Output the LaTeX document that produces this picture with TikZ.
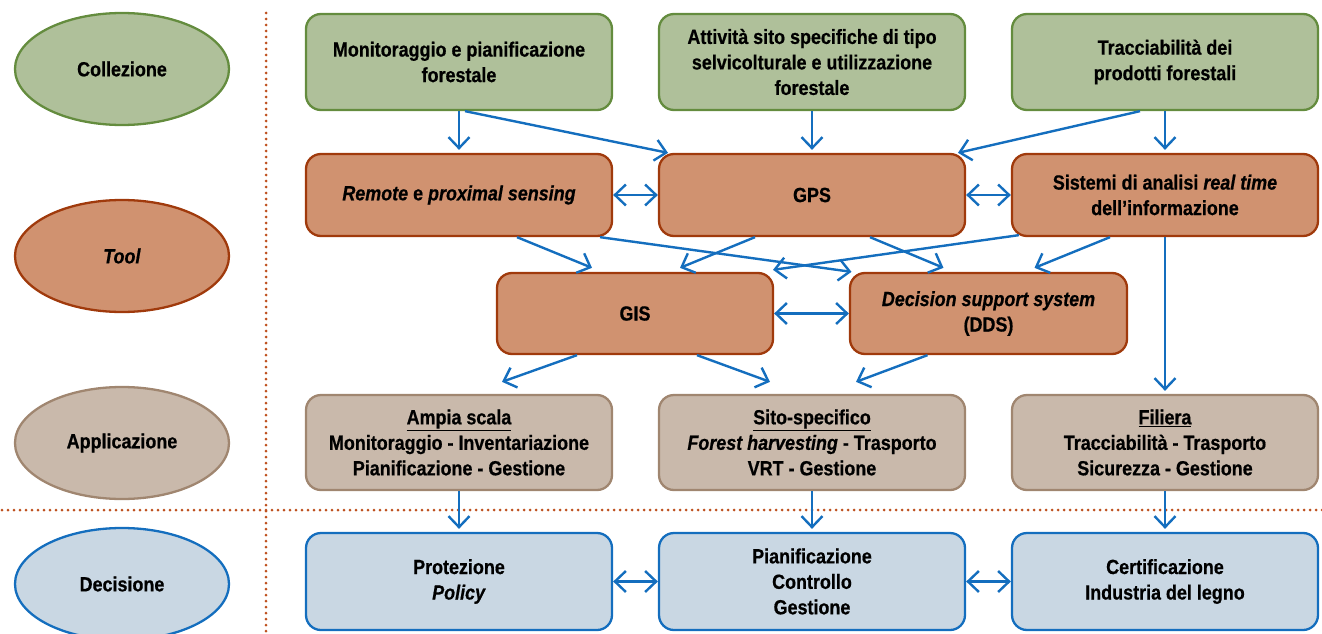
\documentclass[tikz,border=0pt]{standalone}
\usepackage{fontspec}
\setmainfont{Liberation Sans}[FakeStretch=0.875,BoldFeatures={FakeBold=0.6},BoldItalicFeatures={FakeBold=0.6}]
\usetikzlibrary{shapes.geometric,arrows.meta}
\definecolor{gfill}{RGB}{175,192,154}
\definecolor{gdraw}{RGB}{100,140,62}
\definecolor{tfill}{RGB}{208,146,112}
\definecolor{tdraw}{RGB}{160,58,12}
\definecolor{afill}{RGB}{201,185,171}
\definecolor{adraw}{RGB}{160,134,112}
\definecolor{dfill}{RGB}{201,215,227}
\definecolor{ddraw}{RGB}{20,110,190}
\definecolor{ablue}{RGB}{20,110,190}
\definecolor{dotc}{RGB}{190,80,30}
\tikzset{
  txt/.style={align=center, font=\bfseries\fontsize{20.5}{25.5}\selectfont, text=black},
  box/.style={txt, rectangle, rounded corners=15pt, line width=2.3pt, minimum width=306pt, inner sep=0pt},
  gbox/.style={box, fill=gfill, draw=gdraw, minimum height=96pt},
  tbox/.style={box, fill=tfill, draw=tdraw, minimum height=82pt},
  abox/.style={box, fill=afill, draw=adraw, minimum height=95pt},
  dbox/.style={box, fill=dfill, draw=ddraw, minimum height=97pt},
  ell/.style={txt, ellipse, line width=2.3pt, minimum width=214pt, minimum height=112pt, inner sep=0pt},
  barb/.tip={Straight Barb[length=11pt,width=21pt]},
  arr/.style={draw=ablue, line width=2.4pt, -barb},
  darr/.style={draw=ablue, line width=2.4pt, barb-barb},
  sep/.style={draw=dotc, line width=3pt, line cap=round, dash pattern=on 0pt off 6pt}
}
\begin{document}
\begin{tikzpicture}[x=1pt,y=-1pt]
\useasboundingbox (0,0) rectangle (1322,634);
% separators
\coordinate (vt) at (266,13);
\coordinate (vb) at (266,634);
\coordinate (hl) at (2,510);
\coordinate (hr) at (1322,510);
\draw[sep] (vt) -- (vb);
\draw[sep] (hl) -- (hr);
% ellipses
\node[ell, fill=gfill, draw=gdraw] (eC) at (122,69) {Collezione};
\node[ell, fill=tfill, draw=tdraw] (eT) at (122,256) {\textit{Tool}};
\node[ell, fill=afill, draw=adraw] (eA) at (122,443) {Applicazione};
\node[ell, fill=dfill, draw=ddraw] (eD) at (122,584) {Decisione};
% row 1
\node[gbox] (A) at (459,62) {Monitoraggio e pianificazione\\forestale};
\node[gbox] (B) at (812,62) {Attività sito specifiche di tipo\\selvicolturale e utilizzazione\\forestale};
\node[gbox] (C) at (1165,62) {Tracciabilità dei\\prodotti forestali};
% row 2
\node[tbox] (R) at (459,195) {\textit{Remote} e \textit{proximal sensing}};
\node[tbox] (G) at (812,195) {GPS};
\node[tbox] (S) at (1165,195) {Sistemi di analisi \textit{real time}\\dell’informazione};
% row 3
\node[tbox, minimum width=276pt, minimum height=81pt] (GIS) at (635,313.5) {GIS};
\node[tbox, minimum width=277pt, minimum height=81pt] (DDS) at (988.5,313.5) {\textit{Decision support system}\\(DDS)};
% row 4
\node[abox] (AS) at (459,442.5) {\underline{Ampia scala}\\Monitoraggio - Inventariazione\\Pianificazione - Gestione};
\node[abox] (SS) at (812,442.5) {\underline{Sito-specifico}\\\textit{Forest harvesting} - Trasporto\\VRT - Gestione};
\node[abox] (FI) at (1165,442.5) {\underline{Filiera}\\Tracciabilità - Trasporto\\Sicurezza - Gestione};
% row 5
\node[dbox] (PR) at (459,581.5) {Protezione\\\textit{Policy}};
\node[dbox] (PC) at (812,581.5) {Pianificazione\\Controllo\\Gestione};
\node[dbox] (CE) at (1165,581.5) {Certificazione\\Industria del legno};
% arrows row1 -> row2
\draw[arr, shorten >=3pt] (A.south) -- (R.north);
\draw[arr] ([xshift=6pt]A.south) -- ([xshift=-144pt]G.north);
\draw[arr, shorten >=3pt] (B.south) -- (G.north);
\draw[arr] ([xshift=-25pt]C.south) -- ([xshift=146pt]G.north);
\draw[arr, shorten >=3pt] (C.south) -- (S.north);
% row2 horizontals
\draw[darr] (R.east) -- (G.west);
\draw[darr] (G.east) -- (S.west);
% row2 -> row3
\draw[arr] ([xshift=58pt]R.south) -- ([xshift=-43pt,yshift=4pt]GIS.north);
\draw[arr] ([xshift=141pt]R.south) -- ([xshift=-137pt]DDS.north);
\draw[arr] ([xshift=-57pt]G.south) -- ([xshift=45pt,yshift=4pt]GIS.north);
\draw[arr] ([xshift=58pt]G.south) -- ([xshift=-45pt,yshift=4pt]DDS.north);
\draw[arr] ([xshift=8pt,yshift=2pt]S.south west) -- ([xshift=138pt,yshift=2pt]GIS.north);
\draw[arr] ([xshift=-55pt]S.south) -- ([xshift=46pt,yshift=4pt]DDS.north);
\draw[arr, shorten >=3pt] (S.south) -- (FI.north);
% row3
\draw[darr] (GIS.east) -- (DDS.west);
\draw[arr] ([xshift=-58pt]GIS.south) -- ([xshift=43pt,yshift=12pt]AS.north);
\draw[arr] ([xshift=62pt]GIS.south) -- ([xshift=-42pt,yshift=12pt]SS.north);
\draw[arr] ([xshift=-61pt]DDS.south) -- ([xshift=44pt,yshift=12pt]SS.north);
% row4 -> row5
\draw[arr, shorten >=3pt] (AS.south) -- (PR.north);
\draw[arr, shorten >=3pt] (SS.south) -- (PC.north);
\draw[arr, shorten >=3pt] (FI.south) -- (CE.north);
% row5 horizontals
\draw[darr] (PR.east) -- (PC.west);
\draw[darr] (PC.east) -- (CE.west);
\end{tikzpicture}
\end{document}
